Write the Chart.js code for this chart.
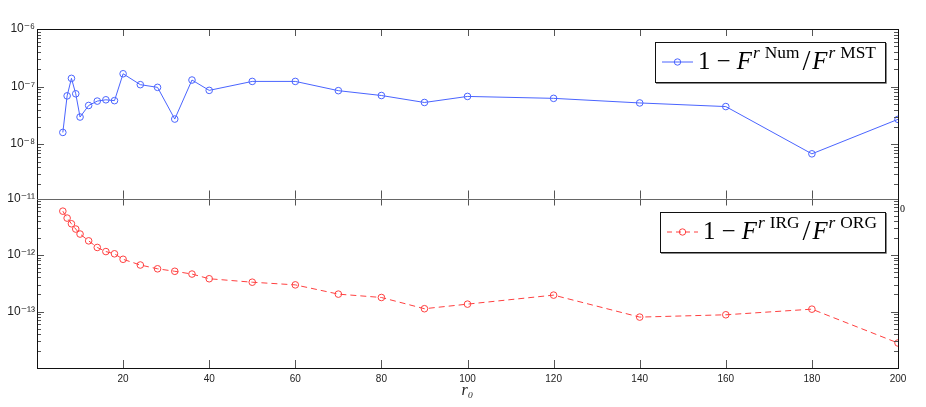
<!DOCTYPE html>
<html><head><meta charset="utf-8">
<script src="https://cdn.jsdelivr.net/npm/chart.js@4.4.0/dist/chart.umd.min.js"></script>
<style>html,body{margin:0;padding:0;background:#fff;}#wrap{position:relative;width:926px;height:407px;}</style>
</head><body><div id="wrap"><canvas id="c" width="926" height="407"></canvas></div>
<script>
// ---- data ----
const r0Values = [6,7,8,9,10,12,14,16,18,20,24,28,32,36,40,50,60,70,80,90,100,120,140,160,180,200];
const numVsMst = [1.6e-8,6.9e-8,1.39e-7,7.5e-8,2.96e-8,4.7e-8,5.6e-8,5.9e-8,5.7e-8,1.67e-7,1.08e-7,9.7e-8,2.73e-8,1.3e-7,8.6e-8,1.23e-7,1.23e-7,8.5e-8,7.0e-8,5.3e-8,6.75e-8,6.25e-8,5.2e-8,4.5e-8,6.8e-9,2.7e-8];
const irgVsOrg = [5.97e-12,4.5e-12,3.57e-12,2.88e-12,2.35e-12,1.78e-12,1.36e-12,1.15e-12,1.05e-12,8.4e-13,6.65e-13,5.7e-13,5.15e-13,4.6e-13,3.8e-13,3.3e-13,2.96e-13,2.03e-13,1.77e-13,1.12e-13,1.35e-13,1.95e-13,7.96e-14,8.75e-14,1.1e-13,2.77e-14];
const xTickValues = [20,40,60,80,100,120,140,160,180,200];
const topDecades = [1e-8,1e-7,1e-6];
const bottomDecades = [1e-13,1e-12,1e-11];
const xTitle = 'r\u2080';

const BLUE = '#4a64ff', RED = '#ff4040';
const SUP = {'-':'\u207B','0':'\u2070','1':'\u00B9','2':'\u00B2','3':'\u00B3','4':'\u2074','5':'\u2075','6':'\u2076','7':'\u2077','8':'\u2078','9':'\u2079'};
function pow10Label(v){ const e = Math.round(Math.log10(v)); return '10' + String(e).split('').map(c=>SUP[c]).join(''); }

function line(ctx,x1,y1,x2,y2){ctx.beginPath();ctx.moveTo(x1,y1);ctx.lineTo(x2,y2);ctx.stroke();}

function drawPanelTicks(ctx, chart, ys){
  const xs = chart.scales.x, L = chart.chartArea.left, R = chart.chartArea.right;
  const T = ys.top, B = ys.bottom;
  ctx.save();
  ctx.strokeStyle = '#555'; ctx.lineWidth = 1;
  xTickValues.forEach(v=>{ const px = Math.round(xs.getPixelForValue(v))+0.5; line(ctx,px,T,px,T+7); line(ctx,px,B,px,B-8); });
  const lo = Math.floor(Math.log10(ys.min)), hi = Math.ceil(Math.log10(ys.max));
  for(let e=lo;e<=hi;e++){ for(let k=1;k<10;k++){ const v=k*Math.pow(10,e); if(v<ys.min*0.999||v>ys.max*1.001) continue;
    const py = Math.round(ys.getPixelForValue(v))+0.5; const len = k===1?7:4;
    line(ctx,L,py,L+len,py); line(ctx,R,py,R-len,py); } }
  ctx.restore();
}

function drawRich(ctx, segs, base, x, baseline, draw){
  let cx = x;
  segs.forEach(s=>{
    const size = base*s.s;
    ctx.font = (s.it?'italic ':'') + size.toFixed(2) + 'px "Liberation Serif", "DejaVu Serif", serif';
    if(draw){ ctx.fillText(s.t, cx + (s.pre||0)*base, baseline + (s.dy||0)*base); }
    cx += ctx.measureText(s.t).width + ((s.pre||0)+(s.post||0))*base;
  });
  return cx - x;
}
function legendSegs(a,b){
  return [
    {t:'1',s:1},{t:'\u2212',s:1,pre:0.25,post:0.25},{t:'F',s:1,it:true},
    {t:'r',s:0.7,it:true,dy:-0.42,pre:0.04},{t:a,s:0.7,dy:-0.42,pre:0.2},
    {t:'/',s:1.15,pre:0.12,post:0.08,dy:0.08},{t:'F',s:1,it:true},
    {t:'r',s:0.7,it:true,dy:-0.42,pre:0.04},{t:b,s:0.7,dy:-0.42,pre:0.2}
  ];
}
function drawLegend(ctx, box, color, dashed, segs, textX, textW){
  ctx.save();
  ctx.fillStyle='#fff'; ctx.fillRect(box.x,box.y,box.w,box.h);
  ctx.strokeStyle='#111'; ctx.lineWidth=1; ctx.strokeRect(box.x+0.5,box.y+0.5,box.w,box.h);
  ctx.strokeStyle='#888'; line(ctx,box.x+box.w+1.5,box.y+1,box.x+box.w+1.5,box.y+box.h+1.5); line(ctx,box.x+1,box.y+box.h+1.5,box.x+box.w+1.5,box.y+box.h+1.5);
  const cy = box.y + box.h/2;
  ctx.strokeStyle=color; ctx.lineWidth=1;
  if(dashed) ctx.setLineDash([5,4]);
  line(ctx, box.x+7, cy, box.x+38, cy);
  ctx.setLineDash([]);
  ctx.beginPath(); ctx.arc(box.x+22.5, cy, 3.2, 0, Math.PI*2); ctx.stroke();
  ctx.fillStyle='#000'; ctx.textBaseline='alphabetic'; ctx.textAlign='left';
  const w20 = drawRich(ctx, segs, 20, 0, 0, false);
  const base = 20*textW/w20;
  drawRich(ctx, segs, base, textX, cy+6.5, true);
  ctx.restore();
}

const overlay = {
  id:'overlay',
  afterDatasetsDraw(chart){
    const ctx = chart.ctx, a = chart.chartArea;
    const yt = chart.scales.yTop, yb = chart.scales.yBot;
    drawPanelTicks(ctx, chart, yt);
    drawPanelTicks(ctx, chart, yb);
    ctx.save();
    ctx.strokeStyle='#111'; ctx.lineWidth=1;
    ctx.strokeRect(Math.round(a.left)+0.5, Math.round(a.top)+0.5, Math.round(a.right-a.left), Math.round(a.bottom-a.top));
    ctx.strokeStyle='#666';
    const my = Math.round(yt.bottom)+0.5; line(ctx, a.left, my, a.right, my);
    ctx.fillStyle='#000'; ctx.font='10px "Liberation Serif", serif'; ctx.fillText('0', 900, 212);
    ctx.restore();
    drawLegend(ctx, {x:655,y:42,w:230,h:40}, BLUE, false, legendSegs('Num','MST'), 698, 178);
    drawLegend(ctx, {x:660,y:212,w:225,h:40}, RED, true, legendSegs('IRG','ORG'), 703, 174);
  }
};

const yCommon = {
  type:'logarithmic', position:'left', stack:'panels', stackWeight:1,
  grid:{display:false, drawTicks:false}, border:{display:false},
  ticks:{ color:'#222', padding:2, font:{family:'"Liberation Sans", "DejaVu Sans", sans-serif', size:12}, callback:(v)=>pow10Label(v), autoSkip:false, maxRotation:0 }
};

new Chart(document.getElementById('c'), {
  type:'line',
  data:{ datasets:[
    { label:'1 - F^r Num / F^r MST', data:r0Values.map((x,i)=>({x, y:numVsMst[i]})), yAxisID:'yTop', xAxisID:'x',
      borderColor:BLUE, borderWidth:1, pointRadius:3.3, pointHoverRadius:3.3, pointBackgroundColor:'rgba(0,0,0,0)', pointBorderColor:BLUE, pointBorderWidth:1, tension:0, fill:false },
    { label:'1 - F^r IRG / F^r ORG', data:r0Values.map((x,i)=>({x, y:irgVsOrg[i]})), yAxisID:'yBot', xAxisID:'x',
      borderColor:RED, borderWidth:1, borderDash:[6,4], pointRadius:3.3, pointHoverRadius:3.3, pointBackgroundColor:'rgba(0,0,0,0)', pointBorderColor:RED, pointBorderWidth:1, tension:0, fill:false }
  ]},
  options:{
    responsive:false, animation:false, devicePixelRatio:1,
    layout:{padding:{left:0,right:28,top:29,bottom:0}},
    plugins:{legend:{display:false}, tooltip:{enabled:false}},
    scales:{
      x:{ type:'linear', min:0, max:200, grid:{display:false, drawTicks:false}, border:{display:false},
          afterBuildTicks:(s)=>{ s.ticks = xTickValues.map(v=>({value:v})); },
          afterFit:(s)=>{ s.height = 39; },
          ticks:{ color:'#222', padding:5, maxRotation:0, autoSkip:false, font:{family:'"Liberation Sans", sans-serif', size:10} },
          title:{ display:true, text:xTitle, color:'#222', padding:{top:0,bottom:7}, font:{family:'"Liberation Serif", serif', size:16, style:'italic'} } },
      yTop:Object.assign({}, yCommon, { weight:2, min:1.14e-9, max:1e-6,
          afterBuildTicks:(s)=>{ s.ticks = topDecades.map(v=>({value:v})); }, afterFit:(s)=>{ s.width = 37; } }),
      yBot:Object.assign({}, yCommon, { weight:1, min:1e-14, max:1e-11,
          afterBuildTicks:(s)=>{ s.ticks = bottomDecades.map(v=>({value:v})); }, afterFit:(s)=>{ s.width = 37; } })
    }
  },
  plugins:[overlay]
});
</script></body></html>
